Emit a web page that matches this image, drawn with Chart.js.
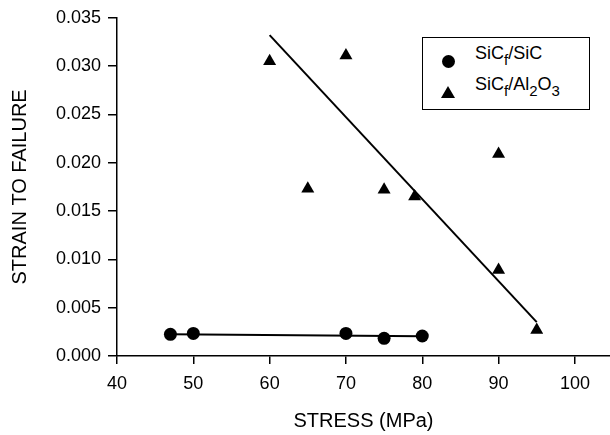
<!DOCTYPE html>
<html lang="en">
<head>
    <meta charset="UTF-8">
    <title>Strain to failure vs stress</title>
    <script src="https://cdn.jsdelivr.net/npm/chart.js"></script>
    <style>
        html, body { margin: 0; padding: 0; background: #fff; }
        #wrap { position: relative; width: 610px; height: 435px; }
        #legend {
            position: absolute; left: 422px; top: 37px; width: 166px; height: 71px;
            border: 1.5px solid #000; background: #fff;
            font-family: 'Liberation Sans', Arial, sans-serif; font-size: 18px; color: #000;
        }
        #legend .txt { position: absolute; left: 52px; line-height: 18px; white-space: nowrap; }
        #legend sub { font-size: 15px; vertical-align: -6px; line-height: 0; }
        #legend .dot { position: absolute; left: 19px; top: 17px; width: 13px; height: 13px; border-radius: 50%; background: #000; }
        #legend .tri { position: absolute; left: 18px; top: 48px; width: 0; height: 0;
            border-left: 7px solid transparent; border-right: 7px solid transparent; border-bottom: 12px solid #000; }
    </style>
</head>
<body>
<div id="wrap">
    <canvas id="strainChart" width="610" height="435"></canvas>
    <!-- legend with subscripts -->
    <div id="legend">
        <div class="dot"></div>
        <div class="txt" style="top:6px">SiC<sub>f</sub>/SiC</div>
        <div class="tri"></div>
        <div class="txt" style="top:37px">SiC<sub>f</sub>/Al<sub>2</sub>O<sub>3</sub></div>
    </div>
</div>
<script>
    // SiCf/SiC points
    const sicStress = [47, 50, 70, 75, 80];
    const sicStrain = [0.00224, 0.00234, 0.00234, 0.00183, 0.00207];
    // SiCf/Al2O3 points
    const aluStress = [60, 65, 70, 75, 79, 90, 90, 95];
    const aluStrain = [0.0305, 0.0173, 0.0311, 0.0172, 0.0165, 0.0209, 0.0089, 0.0027];
    // fitted lines
    const sicFitStress = [47, 80];
    const sicFitStrain = [0.00226, 0.00205];
    const aluFitStress = [60, 95];
    const aluFitStrain = [0.0332, 0.0035];
    // axis ticks
    const xTicks = [40, 50, 60, 70, 80, 90, 100];
    const yTicks = [0, 0.005, 0.010, 0.015, 0.020, 0.025, 0.030, 0.035];

    const toPts = (xs, ys) => xs.map((x, i) => ({ x: x, y: ys[i] }));

    Chart.defaults.font.family = "'Liberation Sans', Arial, sans-serif";
    Chart.defaults.color = '#000';

    const ctx = document.getElementById('strainChart').getContext('2d');
    new Chart(ctx, {
        type: 'scatter',
        data: {
            datasets: [
                {
                    label: 'SiCf/SiC fit',
                    data: toPts(sicFitStress, sicFitStrain),
                    showLine: true,
                    borderColor: '#000',
                    borderWidth: 2,
                    pointRadius: 0
                },
                {
                    label: 'SiCf/Al2O3 fit',
                    data: toPts(aluFitStress, aluFitStrain),
                    showLine: true,
                    borderColor: '#000',
                    borderWidth: 2,
                    pointRadius: 0
                },
                {
                    label: 'SiCf/SiC',
                    data: toPts(sicStress, sicStrain),
                    pointStyle: 'circle',
                    pointRadius: 6.5,
                    backgroundColor: '#000',
                    borderColor: '#000',
                    borderWidth: 0
                },
                {
                    label: 'SiCf/Al2O3',
                    data: toPts(aluStress, aluStrain),
                    pointStyle: 'triangle',
                    pointRadius: 7.5,
                    backgroundColor: '#000',
                    borderColor: '#000',
                    borderWidth: 0
                }
            ]
        },
        options: {
            responsive: false,
            animation: false,
            layout: { autoPadding: false, padding: { top: 17, right: 0, left: 0, bottom: 0 } },
            plugins: {
                legend: { display: false },
                tooltip: { enabled: false }
            },
            scales: {
                x: {
                    type: 'linear',
                    min: 40,
                    max: 104.6,
                    afterBuildTicks: (scale) => { scale.ticks = xTicks.map(v => ({ value: v })); },
                    afterFit: (scale) => {
                        scale.height = 79;
                        scale.paddingLeft = 0;
                        scale.paddingRight = 0;
                    },
                    border: { display: true, color: '#000', width: 1.5 },
                    grid: { drawOnChartArea: false, drawTicks: true, tickLength: 8, color: '#000', lineWidth: 1.5 },
                    ticks: { font: { size: 18 }, padding: 9, maxRotation: 0 },
                    title: { display: true, text: 'STRESS (MPa)', font: { size: 20 }, padding: { top: 0, bottom: 2 } }
                },
                y: {
                    type: 'linear',
                    min: 0,
                    max: 0.035,
                    afterBuildTicks: (scale) => { scale.ticks = yTicks.map(v => ({ value: v })); },
                    afterFit: (scale) => { scale.width = 117; },
                    border: { display: true, color: '#000', width: 1.5 },
                    grid: { drawOnChartArea: false, drawTicks: true, tickLength: 9, color: '#000', lineWidth: 1.5 },
                    ticks: { font: { size: 18 }, padding: 7, callback: (v) => v.toFixed(3) },
                    title: { display: true, text: 'STRAIN TO FAILURE', font: { size: 20 }, padding: { top: 8, bottom: 0 } }
                }
            }
        }
    });
</script>
</body>
</html>
